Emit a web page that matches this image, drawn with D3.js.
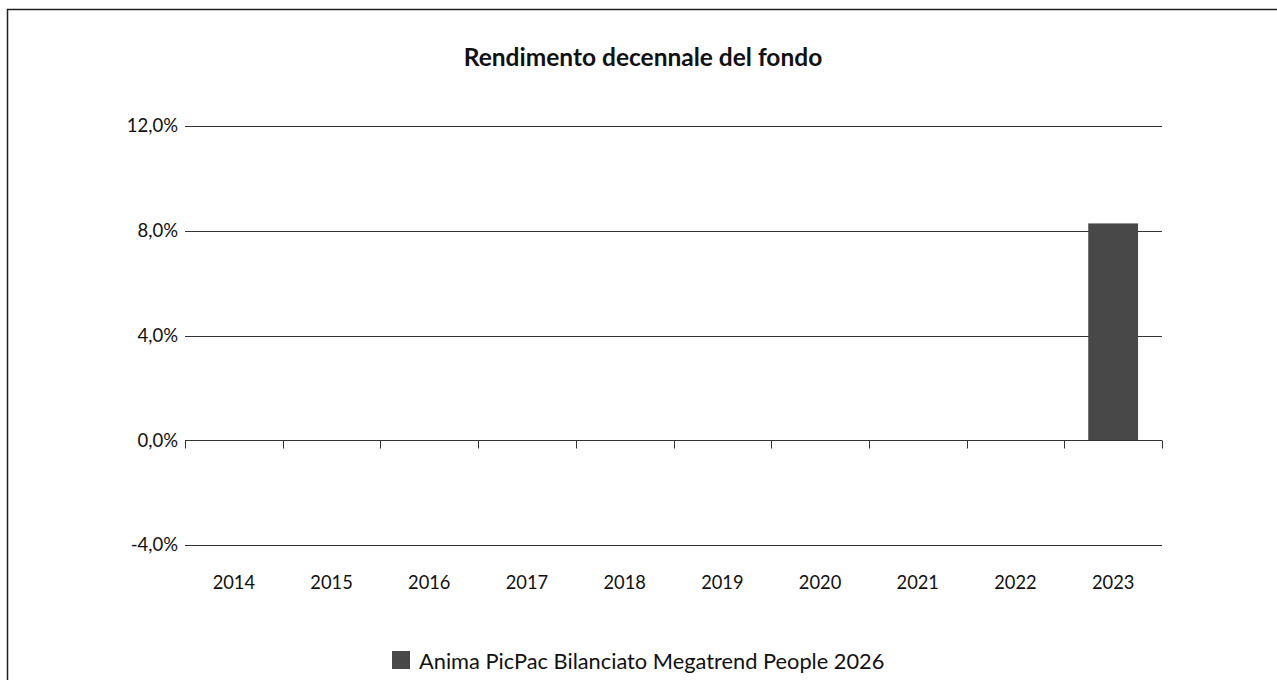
<!DOCTYPE html>
<html>
<head>
<meta charset="utf-8">
<script src="https://cdn.jsdelivr.net/npm/d3@7"></script>
<style>
  html, body { margin: 0; padding: 0; background: #fff; }
  svg { display: block; font-family: Lato, "Open Sans", sans-serif; }
</style>
</head>
<body>
<svg id="chart" width="1277" height="680"></svg>
<script>
// Annual fund returns (%), one per year
const years = ["2014", "2015", "2016", "2017", "2018", "2019", "2020", "2021", "2022", "2023"];
const returns = [null, null, null, null, null, null, null, null, null, 8.28];
const yTicks = [-4, 0, 4, 8, 12];
const seriesName = "Anima PicPac Bilanciato Megatrend People 2026";
const chartTitle = "Rendimento decennale del fondo";

const svg = d3.select("#chart");
const W = 1277, H = 680;
const m = { left: 185, right: 1162, top: 126, bottom: 545 };

// outer frame
svg.append("rect")
  .attr("x", 7.5).attr("y", 9.5)
  .attr("width", W).attr("height", H)
  .attr("fill", "none").attr("stroke", "#222").attr("stroke-width", 1.5);

svg.append("text")
  .attr("x", 643).attr("y", 66)
  .attr("text-anchor", "middle")
  .attr("font-size", 24.5).attr("font-weight", 700).attr("fill", "#111")
  .text(chartTitle);

const x = d3.scaleBand().domain(years).range([m.left, m.right]).paddingInner(0.49).paddingOuter(0.245);
const xb = d3.scaleBand().domain(years).range([m.left, m.right]);
const y = d3.scaleLinear().domain([-4, 12]).range([m.bottom, m.top]);
const fmt = v => (v < 0 ? "-" : "") + d3.format(".1f")(Math.abs(v)).replace(".", ",") + "%";

// horizontal gridlines
svg.append("g").selectAll("line").data(yTicks).join("line")
  .attr("x1", m.left).attr("x2", m.right)
  .attr("y1", d => Math.round(y(d)) + 0.5).attr("y2", d => Math.round(y(d)) + 0.5)
  .attr("stroke", "#333").attr("stroke-width", 1);

// y labels
svg.append("g").selectAll("text").data(yTicks).join("text")
  .attr("x", m.left - 7).attr("y", d => y(d))
  .attr("dy", "0.35em").attr("text-anchor", "end")
  .attr("font-size", 18.5).attr("fill", "#111")
  .text(fmt);

// bars
svg.append("g").selectAll("rect").data(years.map((yr, i) => ({ yr, v: returns[i] })).filter(d => d.v != null))
  .join("rect")
  .attr("x", d => x(d.yr)).attr("width", x.bandwidth())
  .attr("y", d => y(Math.max(0, d.v)))
  .attr("height", d => Math.abs(y(d.v) - y(0)))
  .attr("fill", "#484848");

// category axis at zero
const y0 = Math.round(y(0)) + 0.5;
svg.append("line").attr("x1", m.left).attr("x2", m.right).attr("y1", y0).attr("y2", y0)
  .attr("stroke", "#333");
const bounds = years.map(d => xb(d)).concat([m.right]);
svg.append("g").selectAll("line").data(bounds).join("line")
  .attr("x1", d => Math.round(d) + 0.5).attr("x2", d => Math.round(d) + 0.5)
  .attr("y1", y0).attr("y2", y0 + 8)
  .attr("stroke", "#333");

// year labels
svg.append("g").selectAll("text").data(years).join("text")
  .attr("x", d => xb(d) + xb.bandwidth() / 2).attr("y", 589)
  .attr("text-anchor", "middle").attr("font-size", 18.3).attr("fill", "#111")
  .text(d => d);

// legend
const lg = svg.append("g");
lg.append("rect").attr("x", 392).attr("y", 651).attr("width", 18).attr("height", 18).attr("fill", "#484848");
lg.append("text").attr("x", 419).attr("y", 669).attr("font-size", 21.8).attr("fill", "#111").text(seriesName);
</script>
</body>
</html>
